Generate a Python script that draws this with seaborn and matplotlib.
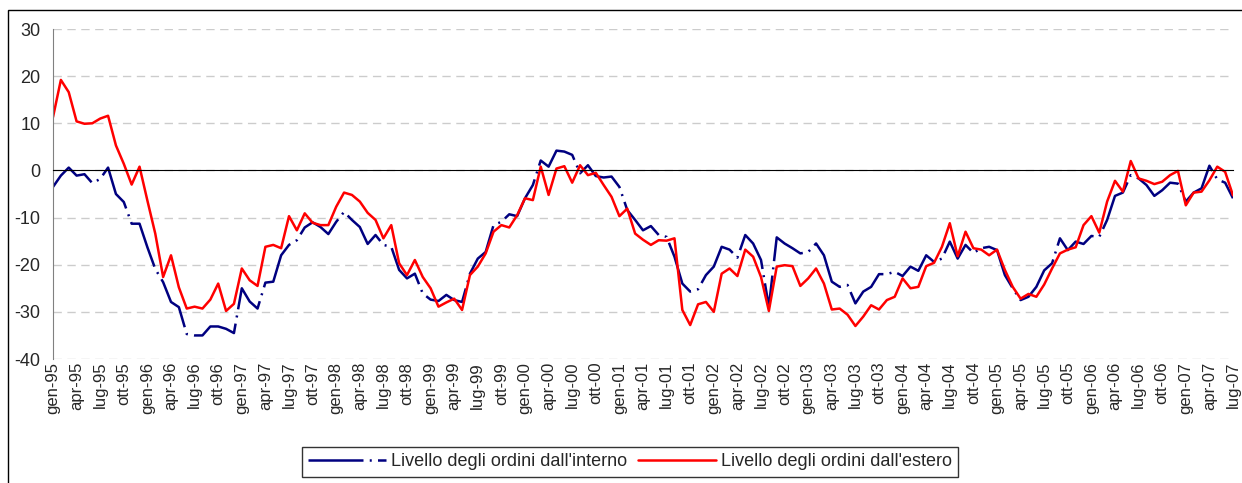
import matplotlib
matplotlib.use("Agg")
import matplotlib.pyplot as plt
import matplotlib.patches as patches
import seaborn as sns
import pandas as pd

# mesi: gen-95 ... lug-07 (151 osservazioni mensili)
mesi = ["gen", "feb", "mar", "apr", "mag", "giu", "lug", "ago", "set", "ott", "nov", "dic"]
anni = list(range(1995, 2008))

interno = [
    -3.5, -1.1, 0.6, -1.1, -0.8, -2.7, -1.8, 0.6, -5.0, -6.7, -11.3, -11.3,
    -16.3, -20.9, -23.7, -27.9, -29.0, -34.7, -35.0, -35.0, -33.1, -33.1, -33.6, -34.5,
    -25.0, -27.8, -29.3, -23.8, -23.6, -18.0, -15.8, -14.8, -12.1, -11.0, -12.0, -13.5,
    -10.9, -8.8, -10.5, -12.0, -15.6, -13.7, -15.8, -16.2, -21.1, -22.9, -21.9, -26.1,
    -27.4, -27.7, -26.4, -27.5, -27.9, -21.9, -18.7, -17.3, -11.6, -10.9, -9.3, -9.7,
    -5.9, -3.1, 2.1, 0.8, 4.2, 4.0, 3.3, -0.6, 1.1, -1.2, -1.5, -1.3,
    -3.5, -8.4, -10.5, -12.7, -11.8, -13.7, -14.1, -18.3, -24.0, -25.7, -25.2, -22.2,
    -20.4, -16.2, -16.8, -18.5, -13.7, -15.5, -19.0, -28.9, -14.2, -15.5, -16.5, -17.6,
    -17.3, -15.5, -18.0, -23.6, -24.7, -24.3, -28.2, -25.7, -24.7, -22.0, -22.0, -21.5,
    -22.4, -20.4, -21.3, -18.0, -19.4, -18.7, -15.1, -18.7, -15.8, -17.5, -16.5, -16.2,
    -16.9, -22.2, -25.0, -27.5, -26.8, -24.7, -21.2, -19.7, -14.4, -16.9, -15.1, -15.6,
    -13.9, -14.1, -10.5, -5.4, -4.7, -1.0, -1.7, -3.1, -5.4, -4.2, -2.6, -2.8,
    -6.6, -4.7, -3.8, 1.0, -1.9, -2.6, -5.9,
]

estero = [
    11.3, 19.2, 16.6, 10.4, 9.9, 10.0, 11.0, 11.6, 5.3, 1.4, -3.0, 0.8,
    -6.4, -13.4, -22.6, -18.0, -24.8, -29.3, -28.9, -29.3, -27.4, -24.0, -29.8, -28.3,
    -20.8, -23.3, -24.5, -16.2, -15.8, -16.5, -9.7, -12.7, -9.1, -11.1, -11.6, -11.6,
    -7.7, -4.7, -5.2, -6.6, -9.0, -10.5, -14.4, -11.6, -19.7, -22.2, -19.0, -22.6,
    -25.0, -28.9, -28.0, -27.2, -29.6, -22.2, -20.4, -17.6, -13.0, -11.6, -12.1, -9.5,
    -5.9, -6.3, 0.8, -5.2, 0.4, 0.9, -2.6, 1.1, -1.0, -0.5, -3.1, -5.6,
    -9.7, -8.1, -13.4, -14.7, -15.8, -14.8, -14.9, -14.4, -29.6, -32.8, -28.4, -27.9,
    -30.0, -21.9, -20.8, -22.4, -16.8, -18.3, -22.6, -29.8, -20.4, -20.1, -20.3, -24.5,
    -22.9, -20.8, -24.0, -29.5, -29.3, -30.6, -33.0, -31.0, -28.6, -29.5, -27.5, -26.8,
    -22.9, -25.0, -24.7, -20.3, -19.6, -16.2, -11.2, -18.2, -13.0, -16.5, -16.8, -18.0,
    -16.8, -21.1, -24.7, -27.2, -26.2, -26.8, -24.2, -20.8, -17.6, -16.8, -16.3, -11.6,
    -9.7, -13.2, -6.6, -2.2, -4.5, 2.0, -1.7, -2.2, -2.9, -2.4, -1.0, -0.1,
    -7.4, -4.7, -4.5, -2.1, 0.8, -0.3, -5.3,
]

etichette_mesi = [f"{m}-{str(a)[2:]}" for a in anni for m in mesi][:len(interno)]

df = pd.DataFrame({
    "mese": range(len(interno)),
    "interno": interno,
    "estero": estero,
})

sns.set_style("white")
plt.rcParams["font.family"] = ["Liberation Sans", "DejaVu Sans"]
plt.rcParams["axes.unicode_minus"] = False

fig = plt.figure(figsize=(12.42, 4.83), dpi=100)
ax = fig.add_axes([53 / 1242, 1 - 359 / 483, (1233 - 53) / 1242, 330 / 483])

sns.lineplot(data=df, x="mese", y="interno", ax=ax, color="#000080", lw=1.8,
             linestyle=(0, (22, 2.5, 0.8, 2.5)), label="Livello degli ordini dall'interno")
sns.lineplot(data=df, x="mese", y="estero", ax=ax, color="#ff0000", lw=1.8,
             label="Livello degli ordini dall'estero")

ax.set_xlim(0, len(interno) - 1)
ax.set_ylim(-40, 30)
ax.set_yticks(range(-40, 31, 10))
ax.yaxis.grid(True, linestyle=(0, (6, 4)), color="#cccccc", lw=1)
ax.set_axisbelow(True)
ax.set_xlabel("")
ax.set_ylabel("")

for s in ["top", "right"]:
    ax.spines[s].set_visible(False)
ax.spines["left"].set_color("#808080")
ax.spines["bottom"].set_position(("data", 0))
ax.spines["bottom"].set_color("black")

pos = list(range(0, len(interno), 3))
ax.set_xticks(pos)
ax.tick_params(axis="x", labelbottom=False, direction="out", length=6, color="#404040")
ax.tick_params(axis="y", direction="out", length=6, color="#808080", labelsize=13, pad=3)

sec = ax.secondary_xaxis("bottom")
sec.set_xticks(pos, [etichette_mesi[i] for i in pos], rotation=90, fontsize=12)
sec.tick_params(length=0, pad=2)
sec.spines["bottom"].set_visible(False)

leg = ax.legend(loc="center", bbox_to_anchor=(630 / 1242, 1 - 462 / 483),
                bbox_transform=fig.transFigure, ncol=2, fontsize=13, frameon=True,
                fancybox=False, edgecolor="black", handlelength=4.3, handletextpad=0.3,
                columnspacing=0.6, borderpad=0.35)
leg.get_frame().set_linewidth(1)

fig.add_artist(patches.Rectangle((8 / 1242, -0.02), 1.1, 1.02 - 10 / 483,
                                 transform=fig.transFigure, fill=False, lw=1, ec="black"))

fig.savefig("out.png", dpi=100)
